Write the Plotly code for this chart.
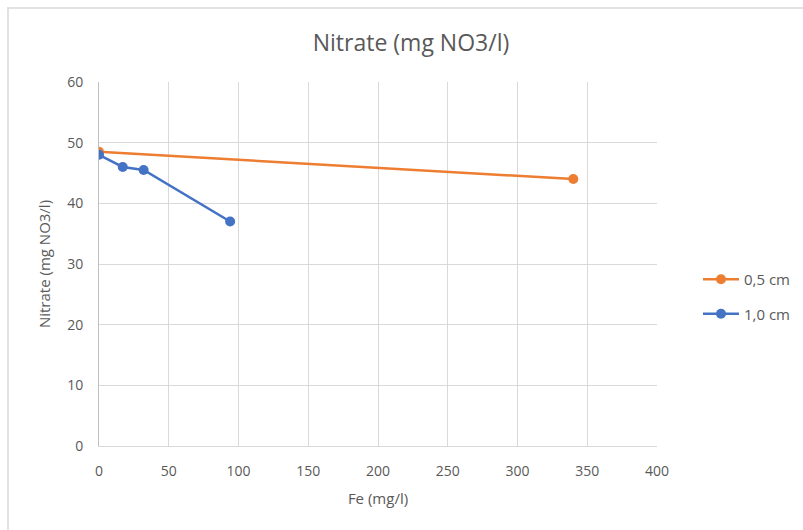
import plotly.graph_objects as go

fe_05 = [0, 340]
no3_05 = [48.5, 44.0]
fe_10 = [0, 17, 32, 94]
no3_10 = [48.0, 46.0, 45.5, 37.0]

W, H = 803, 530
L, R, T, B = 99, 146, 82, 84
pw = W - L - R
ph = H - T - B


def px(x):
    return (x - L) / pw


def py(y):
    return (H - B - y) / ph


fig = go.Figure()
fig.add_trace(go.Scatter(x=fe_05, y=no3_05, name="0,5 cm", mode="lines+markers",
                         legendgroup="a",
                         line=dict(color="#ED7D31", width=2.5),
                         marker=dict(color="#ED7D31", size=10)))
fig.add_trace(go.Scatter(x=fe_10, y=no3_10, name="1,0 cm", mode="lines+markers",
                         legendgroup="b",
                         line=dict(color="#4472C4", width=2.5),
                         marker=dict(color="#4472C4", size=10)))

font = "Open Sans, Liberation Sans, sans-serif"
fig.update_layout(
    width=W, height=H,
    margin=dict(l=L, r=R, t=T, b=B, pad=0, autoexpand=False),
    paper_bgcolor="white", plot_bgcolor="white",
    font=dict(family=font, color="#595959", size=14),
    title=dict(text="Nitrate (mg NO3/l)", x=411 / W, xanchor="center",
               y=1 - 43 / H, yanchor="middle",
               font=dict(size=23, color="#595959", family=font)),
    xaxis=dict(range=[0, 400], dtick=50, showgrid=True,
               gridcolor="#d9d9d9", gridwidth=1,
               zeroline=False, showline=True, linecolor="#d9d9d9", linewidth=1,
               ticks="outside", ticklen=12, tickcolor="rgba(0,0,0,0)",
               tickfont=dict(size=14, color="#595959"),
               title=dict(text="Fe (mg/l)", font=dict(size=15, color="#595959"), standoff=14)),
    yaxis=dict(range=[0, 60], dtick=10, showgrid=True, gridcolor="#d9d9d9", gridwidth=1,
               zeroline=False, showline=True, linecolor="#bfbfbf", linewidth=1,
               ticks="outside", ticklen=12, tickcolor="rgba(0,0,0,0)",
               tickfont=dict(size=14, color="#595959"),
               title=dict(text="Nitrate (mg NO3/l)", font=dict(size=15, color="#595959"), standoff=12)),
    legend=dict(x=px(698), y=py(263), xanchor="left", yanchor="top",
                font=dict(size=15, color="#595959"), tracegroupgap=12,
                traceorder="grouped", itemwidth=36,
                bgcolor="rgba(0,0,0,0)"),
    showlegend=True,
    shapes=[
        dict(type="line", xref="paper", yref="paper",
             x0=px(7), x1=px(W), y0=py(8), y1=py(8),
             line=dict(color="#d9d9d9", width=1.5)),
        dict(type="line", xref="paper", yref="paper",
             x0=px(8), x1=px(8), y0=py(8), y1=py(H),
             line=dict(color="#d9d9d9", width=1.5)),
    ],
)

fig.write_html("out.html")
